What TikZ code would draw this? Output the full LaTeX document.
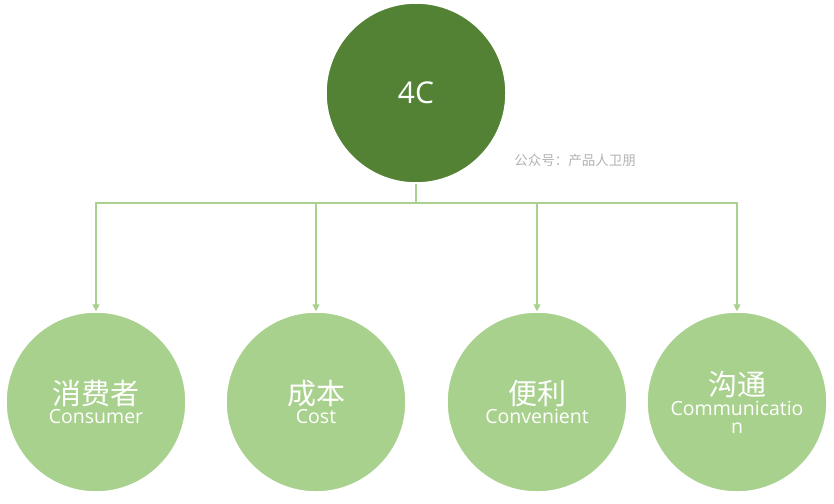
\documentclass[tikz,border=0pt]{standalone}
\usepackage{fontspec}
\setmainfont{Open Sans}
\newfontfamily\cjk{Noto Sans CJK SC}
\usetikzlibrary{arrows.meta,positioning}
\definecolor{darkgreen}{HTML}{548235}
\definecolor{lightgreen}{HTML}{A9D18E}
\tikzset{
  topcircle/.style={circle,fill=darkgreen,draw=white,line width=1.5pt,minimum size=180pt,inner sep=0pt,text=white,font=\fontsize{30}{34}\selectfont},
  subcircle/.style={circle,fill=lightgreen,draw=white,line width=1.5pt,minimum size=180pt,inner sep=0pt,text=white,align=center},
  link/.style={draw=lightgreen,line width=1.3pt,-{Triangle[length=7pt,width=7pt]}}
}
\newcommand{\cn}[1]{{\cjk\fontsize{29}{30}\selectfont #1}}
\newcommand{\en}[1]{{\fontsize{19.5}{22}\selectfont #1}}
\begin{document}
\begin{tikzpicture}[x=1pt,y=-1pt]
\useasboundingbox (0,0) rectangle (834,503);
\node[topcircle](top)at(416,93){4C};
\node[text=gray!60,font=\cjk\fontsize{13.5}{15}\selectfont](mark)at(575,160){公众号：产品人卫朋};
\node[subcircle](consumer)at(96,402){\cn{消费者}\\[2pt]\en{Consumer}};
\node[subcircle](cost)at(316,402){\cn{成本}\\[2pt]\en{Cost}};
\node[subcircle](conv)at(537,402){\cn{便利}\\[2pt]\en{Convenient}};
\node[subcircle](comm)at(737,402){\cn{沟通}\\[2pt]\en{Communicatio}\\[6pt]\en{n}};
\coordinate(hub)at(416,203);
\foreach \c in {consumer,cost,conv,comm}
{\draw[link](top.south)--(hub)-|(\c.north);}
\end{tikzpicture}
\end{document}
